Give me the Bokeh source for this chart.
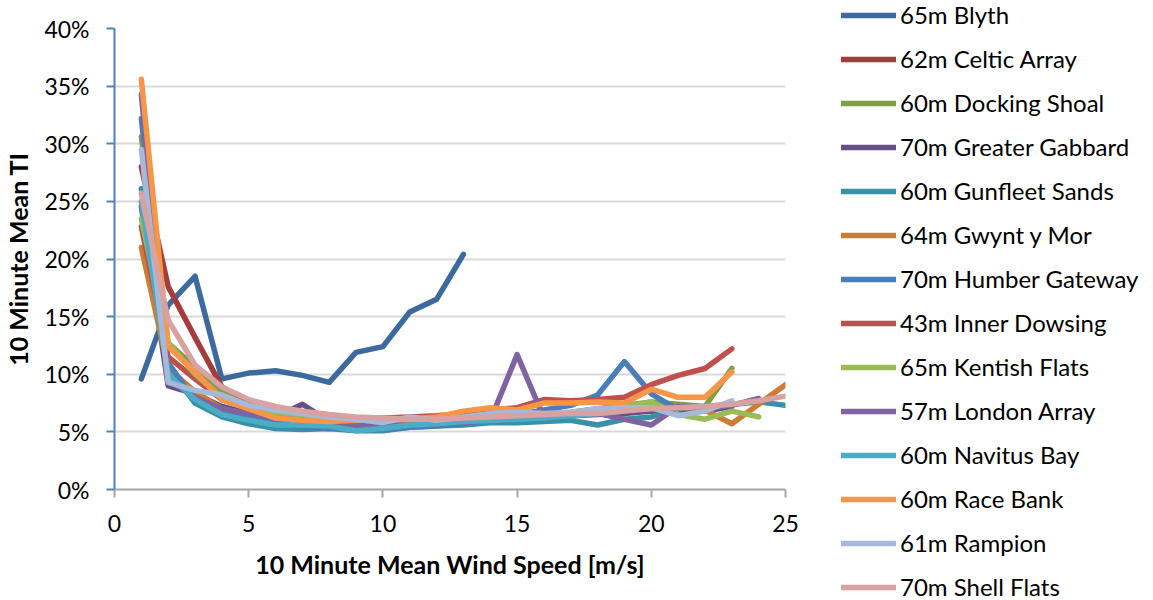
from bokeh.plotting import figure
from bokeh.layouts import row
from bokeh.models import Legend, LegendItem, PrintfTickFormatter, FixedTicker, Range1d
from bokeh.embed import file_html
from bokeh.resources import INLINE

# ---- data (TI in %, wind speed bins 1..N m/s) ----
names = ["65m Blyth", "62m Celtic Array", "60m Docking Shoal", "70m Greater Gabbard",
         "60m Gunfleet Sands", "64m Gwynt y Mor", "70m Humber Gateway", "43m Inner Dowsing",
         "65m Kentish Flats", "57m London Array", "60m Navitus Bay", "60m Race Bank",
         "61m Rampion", "70m Shell Flats"]
colors = ["#3D6A9E", "#A33C3A", "#7F9E48", "#654F86", "#3891A8", "#CF7C32", "#4A7EBB",
          "#C0504D", "#9BBB59", "#8064A2", "#4BACC6", "#F79646", "#A5B9DA", "#D9A1A0"]

blyth = [9.6, 16.0, 18.5, 9.6, 10.1, 10.3, 9.9, 9.3, 11.9, 12.4, 15.4, 16.5, 20.4]
celtic_array = [28.0, 17.6, 13.2, 8.9, 7.5, 7.0, 6.6, 6.4, 6.2, 6.1, 6.2, 6.3, 6.5, 6.7]
docking_shoal = [30.6, 12.7, 10.6, 8.4, 7.2, 6.7, 6.4, 6.2, 6.1, 6.0, 6.0, 6.1, 6.2, 6.3,
                 6.4, 6.5, 6.7, 7.0, 7.3, 7.6, 7.4, 7.2, 10.5]
greater_gabbard = [24.6, 9.0, 8.3, 7.2, 6.6, 6.3, 7.4, 5.9, 5.8, 5.8, 5.9, 6.0, 6.1, 6.2,
                   6.2, 6.3, 6.4, 6.5, 6.6, 6.8, 6.9, 6.8, 7.2]
gunfleet_sands = [26.1, 10.6, 7.5, 6.3, 5.7, 5.3, 5.2, 5.3, 5.1, 5.1, 5.4, 5.5, 5.6, 5.8,
                  5.8, 5.9, 6.0, 5.6, 6.1, 6.3, 7.0, 7.2, 7.4, 7.6, 7.3]
gwynt_y_mor = [21.0, 10.5, 8.5, 7.0, 6.5, 6.2, 6.0, 5.9, 5.8, 5.8, 5.9, 6.0, 6.1, 6.2,
               6.3, 6.5, 6.6, 6.8, 7.0, 7.3, 7.2, 6.9, 5.7, 7.4, 9.1]
humber_gateway = [32.2, 11.0, 7.7, 6.7, 6.3, 5.8, 5.4, 5.3, 5.3, 5.2, 5.4, 5.5, 5.8, 6.1,
                  6.5, 6.9, 7.3, 8.2, 11.1, 8.3, 6.9]
inner_dowsing = [22.8, 11.5, 9.6, 7.8, 7.0, 6.6, 6.5, 6.3, 6.2, 6.2, 6.3, 6.4, 6.6, 6.9,
                 7.1, 7.8, 7.7, 7.8, 8.0, 9.1, 9.9, 10.5, 12.2]
kentish_flats = [23.5, 12.7, 10.0, 8.0, 7.0, 6.5, 6.2, 5.9, 5.8, 5.7, 5.7, 5.8, 5.9, 6.0,
                 6.2, 6.4, 6.6, 6.9, 7.2, 7.6, 6.5, 6.1, 6.8, 6.3]
london_array = [34.3, 9.5, 8.0, 7.0, 6.6, 6.2, 6.0, 5.7, 5.6, 5.6, 5.6, 5.7, 5.8, 6.0,
                11.7, 6.2, 6.4, 6.6, 6.1, 5.6, 7.2, 7.0, 7.3, 7.9]
navitus_bay = [25.0, 10.0, 7.8, 6.5, 6.0, 5.6, 5.6, 5.5, 5.1, 5.3, 5.6, 5.7, 5.9, 6.0,
               6.1, 6.2, 6.4, 6.6, 6.8]
race_bank = [35.6, 12.4, 10.2, 7.8, 7.0, 6.2, 6.0, 5.9, 6.0, 6.0, 6.1, 6.3, 6.8, 7.1,
             6.9, 7.5, 7.5, 7.6, 7.5, 8.7, 8.0, 8.0, 10.2]
rampion = [29.5, 9.3, 8.6, 8.2, 7.3, 6.9, 6.6, 6.3, 6.1, 5.8, 6.3, 6.0, 6.3, 6.6, 6.7,
           6.6, 6.7, 7.0, 7.1, 7.1, 6.4, 6.8, 7.7]
shell_flats = [25.7, 14.7, 10.8, 8.9, 7.8, 7.2, 6.8, 6.5, 6.3, 6.2, 6.1, 6.1, 6.2, 6.3,
               6.4, 6.5, 6.6, 6.6, 6.8, 7.0, 7.1, 7.2, 7.4, 7.7, 8.1]

series = [blyth, celtic_array, docking_shoal, greater_gabbard, gunfleet_sands, gwynt_y_mor,
          humber_gateway, inner_dowsing, kentish_flats, london_array, navitus_bay,
          race_bank, rampion, shell_flats]

x_ticks = [0, 5, 10, 15, 20, 25]
y_ticks = [0, 5, 10, 15, 20, 25, 30, 35, 40]

FONT = "Lato"
LW = 5.5

p = figure(width=830, height=600, output_backend="svg", toolbar_location=None,
           x_range=Range1d(0, 25), y_range=Range1d(0, 40),
           min_border_left=113, min_border_right=45, min_border_top=28,
           min_border_bottom=111)
p.outline_line_color = None
p.background_fill_color = "white"
p.border_fill_color = "white"

for name, col, ys in zip(names, colors, series):
    xs = list(range(1, len(ys) + 1))
    p.line(xs, ys, line_color=col, line_width=LW, line_join="round", line_cap="round")

# axes
p.xaxis.ticker = FixedTicker(ticks=x_ticks)
p.yaxis.ticker = FixedTicker(ticks=y_ticks)
p.yaxis.formatter = PrintfTickFormatter(format="%d%%")
p.xgrid.visible = False
p.ygrid.grid_line_color = "#D9D9D9"
p.ygrid.grid_line_width = 2

p.yaxis.axis_line_color = "#4F81BD"
p.yaxis.axis_line_width = 2
p.yaxis.major_tick_line_color = "#4F81BD"
p.yaxis.major_tick_line_width = 2
p.yaxis.major_tick_in = 0
p.yaxis.major_tick_out = 8
p.yaxis.minor_tick_line_color = None

p.xaxis.axis_line_color = "#A6A6A6"
p.xaxis.axis_line_width = 2
p.xaxis.major_tick_line_color = "#A6A6A6"
p.xaxis.major_tick_line_width = 2
p.xaxis.major_tick_in = 0
p.xaxis.major_tick_out = 8
p.xaxis.minor_tick_line_color = None

for ax in (p.xaxis, p.yaxis):
    ax.major_label_text_font = FONT
    ax.major_label_text_font_size = "23px"
    ax.major_label_text_color = "#000000"
    ax.axis_label_text_font = FONT
    ax.axis_label_text_font_size = "25px"
    ax.axis_label_text_font_style = "bold"
    ax.axis_label_text_color = "#000000"

p.xaxis.axis_label = "10 Minute Mean Wind Speed [m/s]"
p.yaxis.axis_label = "10 Minute Mean TI"
p.yaxis.major_label_standoff = 17
p.xaxis.major_label_standoff = 17
p.yaxis.axis_label_standoff = 8
p.xaxis.axis_label_standoff = 14

# ---- legend panel: its own full-height frame ----
lg = figure(width=323, height=600, output_backend="svg", toolbar_location=None,
            x_range=Range1d(0, 1), y_range=Range1d(0, 1),
            min_border=0, min_border_left=0, min_border_right=0,
            min_border_top=0, min_border_bottom=0)
lg.outline_line_color = None
lg.axis.visible = False
lg.grid.visible = False
if "frame_align" in lg.properties():
    lg.frame_align = False
    p.frame_align = False
items = []
for name, col in zip(names, colors):
    # proxy line kept outside the visible range; only its legend glyph shows
    r = lg.line([-5, -4], [-5, -5], line_color=col, line_width=LW, line_cap="round")
    items.append(LegendItem(label=name, renderers=[r]))

legend = Legend(items=items, location=(11, -1), orientation="vertical",
                border_line_color=None, background_fill_alpha=0,
                padding=0, margin=0, spacing=15, label_height=29,
                glyph_width=55, glyph_height=20, label_standoff=4,
                label_text_font=FONT, label_text_font_size="24px",
                label_text_color="#000000")
lg.add_layout(legend, "center")

layout = row(p, lg, spacing=0)
open("out.html", "w").write(file_html(layout, INLINE))
